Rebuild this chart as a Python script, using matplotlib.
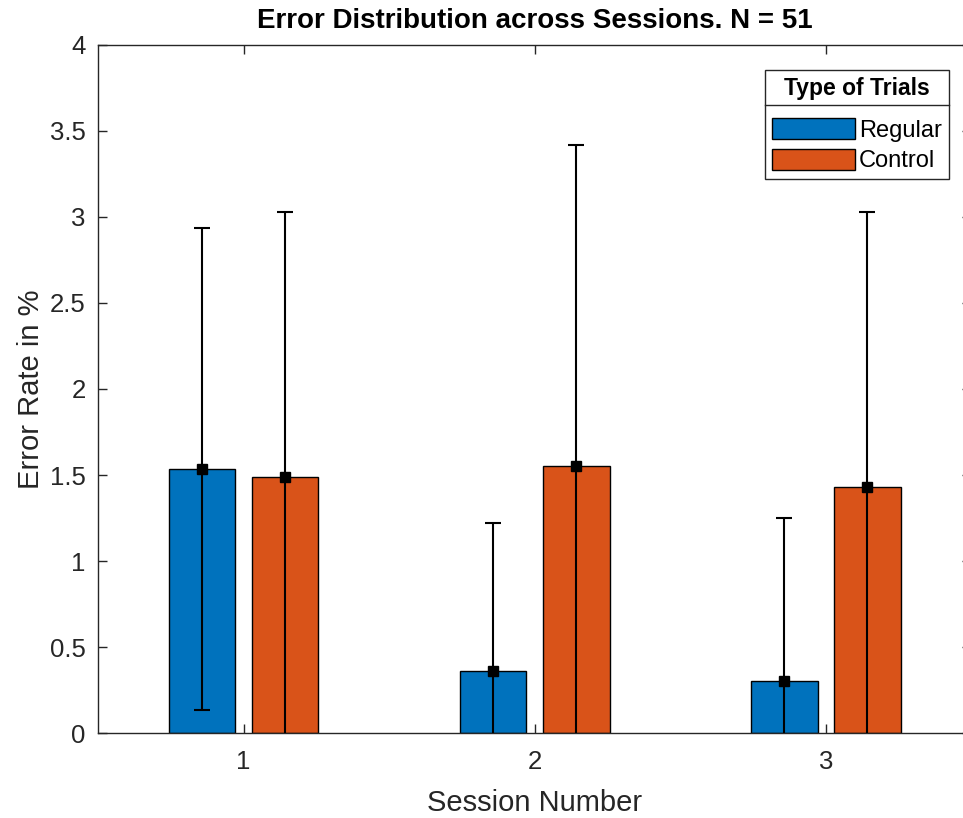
import numpy as np
import matplotlib
matplotlib.use("Agg")
import matplotlib.pyplot as plt
from matplotlib.lines import Line2D

# data
sessions = [1, 2, 3]
regular_mean = [1.535, 0.36, 0.30]
regular_err = [1.40, 0.86, 0.95]
control_mean = [1.49, 1.55, 1.43]
control_err = [1.54, 1.87, 1.60]
series_names = ['Regular', 'Control']

plt.rcParams['font.family'] = ['Liberation Sans', 'DejaVu Sans']
gray = '#262626'

fig = plt.figure(figsize=(9.63, 8.18), dpi=100)
ax = fig.add_axes([0.1018, 0.1039, 0.9070, 0.8411])

x = np.array(sessions, dtype=float)
offset = 0.1428
width = 0.2286

ax.bar(x - offset, regular_mean, width, color='#0072BD', edgecolor='black',
       linewidth=1.0, label=series_names[0], zorder=2)
ax.bar(x + offset, control_mean, width, color='#D95319', edgecolor='black',
       linewidth=1.0, label=series_names[1], zorder=2)

ax.errorbar(x - offset, regular_mean, yerr=regular_err, fmt='s', color='black',
            ecolor='black', elinewidth=1.5, capsize=5.8, capthick=1.5,
            markersize=6.5, zorder=3)
ax.errorbar(x + offset, control_mean, yerr=control_err, fmt='s', color='black',
            ecolor='black', elinewidth=1.5, capsize=5.8, capthick=1.5,
            markersize=6.5, zorder=3)

ax.set_xlim(0.5, 3.5)
ax.set_ylim(0, 4)
ax.set_xticks(sessions)
yt = np.arange(0, 4.01, 0.5)
ax.set_yticks(yt)
ax.set_yticklabels(['%g' % v for v in yt])

ax.tick_params(direction='in', length=6.5, width=1, colors=gray,
               labelsize=18.5, top=True, right=True)
ax.tick_params(axis='x', pad=12)
ax.tick_params(axis='y', pad=9)
for s in ax.spines.values():
    s.set_color(gray)
    s.set_linewidth(1)

ax.set_title('Error Distribution across Sessions. N = 51', fontsize=20,
             fontweight='bold', color='black', pad=12)
ax.set_xlabel('Session Number', fontsize=21, color=gray, labelpad=11)
ax.set_ylabel('Error Rate in %', fontsize=21, color=gray, labelpad=3)

leg = ax.legend(loc='upper right', bbox_to_anchor=(0.9745, 0.964),
                title='Type of Trials', fontsize=17, fancybox=False,
                edgecolor=gray, framealpha=1, handlelength=3.5,
                handleheight=1.0, handletextpad=0.2, labelspacing=0.3,
                borderpad=0.3, borderaxespad=0)
leg.get_title().set_fontweight('bold')
leg.get_title().set_fontsize(16.5)
leg.get_frame().set_linewidth(1)
leg._legend_box.sep = 13

# separator line under the legend title
fig.canvas.draw()
r = fig.canvas.get_renderer()
fb = leg.get_frame().get_window_extent(r)
tb = leg.get_title().get_window_extent(r)
ysep = tb.y0 - 5
inv = fig.transFigure.inverted()
(x0, y0) = inv.transform((fb.x0, ysep))
(x1, _) = inv.transform((fb.x1, ysep))
fig.add_artist(Line2D([x0, x1], [y0, y0], color=gray, linewidth=1))

plt.savefig('out.png', dpi=100)
